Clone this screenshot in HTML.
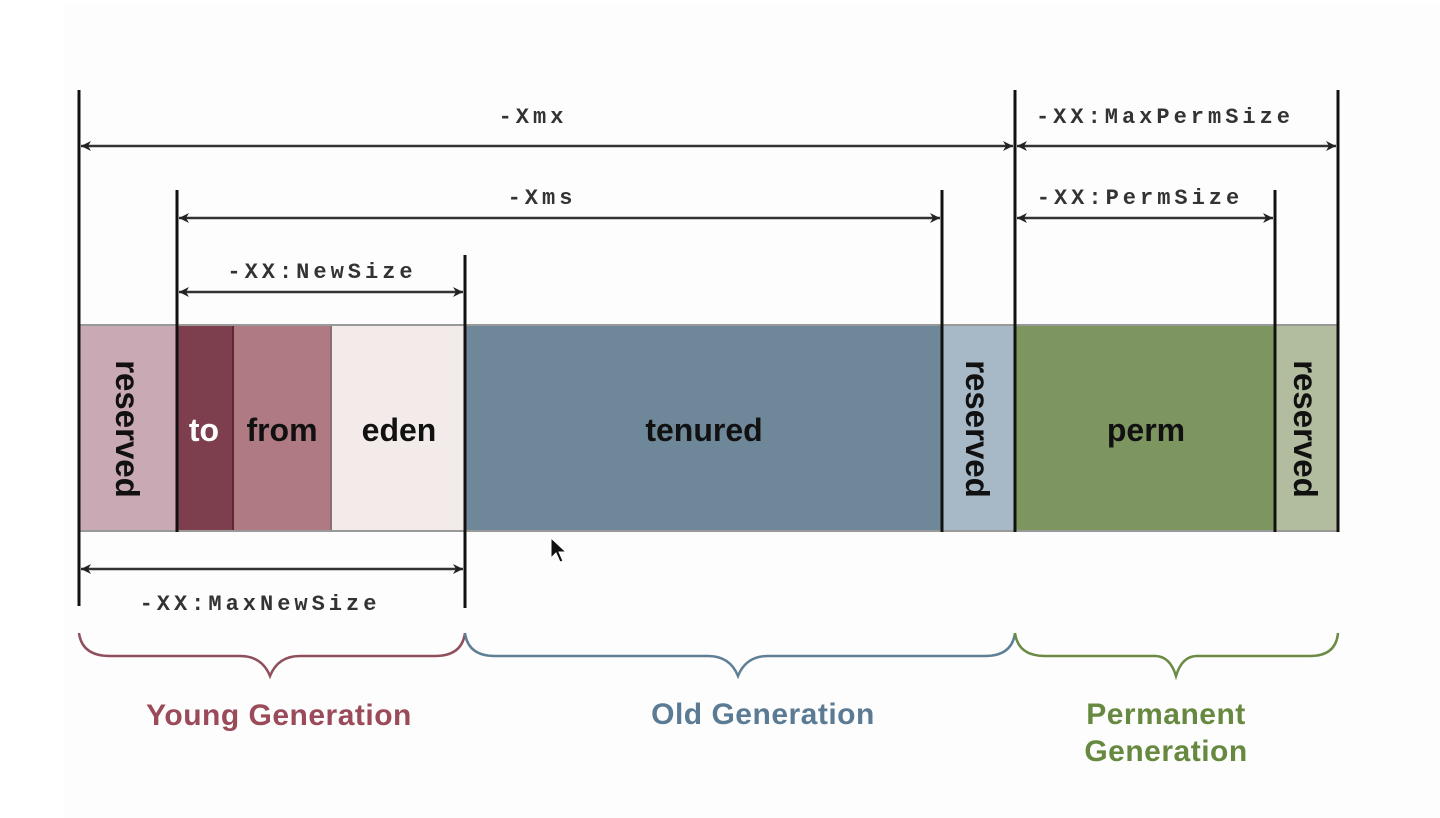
<!DOCTYPE html>
<html><head><meta charset="utf-8"><style>
html,body{margin:0;padding:0;background:#fff;width:1440px;height:818px;overflow:hidden}
svg{display:block}
.m{font-family:"Liberation Mono",monospace;font-weight:bold;font-size:22px;fill:#333;letter-spacing:4px}
.b{font-family:"Liberation Sans",sans-serif;font-weight:bold;font-size:32px;fill:#111}
.r{font-family:"Liberation Sans",sans-serif;font-weight:bold;font-size:33px;fill:#111}
.g{font-family:"Liberation Sans",sans-serif;font-weight:bold;font-size:30px;letter-spacing:0.5px}
</style></head><body>
<svg width="1440" height="818" viewBox="0 0 1440 818" xmlns="http://www.w3.org/2000/svg">
<defs>
<marker id="a" viewBox="0 0 10 10" refX="10" refY="5" markerWidth="10" markerHeight="10" orient="auto-start-reverse" markerUnits="userSpaceOnUse">
<path d="M0,0 L10,5 L0,10 L3,5 Z" fill="#222"/></marker>
</defs>
<rect x="64" y="5" width="1376" height="813" fill="#fcfdfc"/>
<rect x="79" y="324" width="1259" height="208" fill="#999"/>
<rect x="79" y="326" width="98" height="204" fill="#c9a9b3"/>
<rect x="177" y="326" width="56" height="204" fill="#7d3f4d"/>
<rect x="233" y="326" width="97" height="204" fill="#b07a83"/>
<rect x="332" y="326" width="133" height="204" fill="#f2ebea"/>
<rect x="465" y="326" width="477" height="204" fill="#6e8799"/>
<rect x="942" y="326" width="73" height="204" fill="#a7b8c6"/>
<rect x="1015" y="326" width="260" height="204" fill="#7d965f"/>
<rect x="1275" y="326" width="63" height="204" fill="#b2bd9f"/>
<line x1="233" y1="326" x2="233" y2="530" stroke="#5a2a35" stroke-width="2"/>
<line x1="331" y1="326" x2="331" y2="530" stroke="#8a6068" stroke-width="1.5"/>
<g stroke="#111" stroke-width="3">
<line x1="79" y1="90" x2="79" y2="606"/>
<line x1="177" y1="190" x2="177" y2="532"/>
<line x1="465" y1="255" x2="465" y2="608"/>
<line x1="942" y1="190" x2="942" y2="532"/>
<line x1="1015" y1="90" x2="1015" y2="532"/>
<line x1="1275" y1="190" x2="1275" y2="532"/>
<line x1="1338" y1="90" x2="1338" y2="532"/>
</g>
<g stroke="#333" stroke-width="2.5" marker-start="url(#a)" marker-end="url(#a)">
<line x1="81" y1="146" x2="1013" y2="146"/>
<line x1="1017" y1="146" x2="1336" y2="146"/>
<line x1="179" y1="218" x2="940" y2="218"/>
<line x1="1017" y1="218" x2="1273" y2="218"/>
<line x1="179" y1="292" x2="463" y2="292"/>
<line x1="81" y1="569" x2="463" y2="569"/>
</g>
<text class="m" x="533" y="123" text-anchor="middle">-Xmx</text>
<text class="m" x="542" y="204" text-anchor="middle">-Xms</text>
<text class="m" x="322" y="278" text-anchor="middle">-XX:NewSize</text>
<text class="m" x="1165" y="123" text-anchor="middle">-XX:MaxPermSize</text>
<text class="m" x="1140" y="204" text-anchor="middle">-XX:PermSize</text>
<text class="m" x="260" y="610" text-anchor="middle">-XX:MaxNewSize</text>
<text class="b" x="204" y="441" text-anchor="middle" style="fill:#fff">to</text>
<text class="b" x="282" y="441" text-anchor="middle">from</text>
<text class="b" x="399" y="441" text-anchor="middle">eden</text>
<text class="b" x="704" y="441" text-anchor="middle">tenured</text>
<text class="b" x="1146" y="441" text-anchor="middle">perm</text>
<text class="r" transform="translate(116,429) rotate(90)" text-anchor="middle">reserved</text>
<text class="r" transform="translate(966,429) rotate(90)" text-anchor="middle">reserved</text>
<text class="r" transform="translate(1294,429) rotate(90)" text-anchor="middle">reserved</text>
<path d="M551,538 L551,558 L556,553 L560,562 L563,561 L559,552 L566,552 Z" fill="#111" stroke="#fff" stroke-width="1"/>
<g fill="none" stroke-width="2.5">
<path d="M79,633 Q82,656 110,656 L240,656 Q262,656 270,676 Q278,656 300,656 L435,656 Q462,656 465,633" stroke="#8f4f5c"/>
<path d="M465,633 Q468,656 495,656 L708,656 Q730,656 738,676 Q746,656 768,656 L985,656 Q1012,656 1015,633" stroke="#5f7f96"/>
<path d="M1015,633 Q1018,656 1045,656 L1155,656 Q1170,656 1176,676 Q1182,656 1197,656 L1310,656 Q1336,656 1338,633" stroke="#6a8a45"/>
</g>
<text class="g" x="279" y="725" text-anchor="middle" style="fill:#9b4a5a">Young Generation</text>
<text class="g" x="763" y="724" text-anchor="middle" style="fill:#5b7b94">Old Generation</text>
<text class="g" x="1166" y="724" text-anchor="middle" style="fill:#66883f">Permanent</text>
<text class="g" x="1166" y="761" text-anchor="middle" style="fill:#66883f">Generation</text>
</svg>
</body></html>
